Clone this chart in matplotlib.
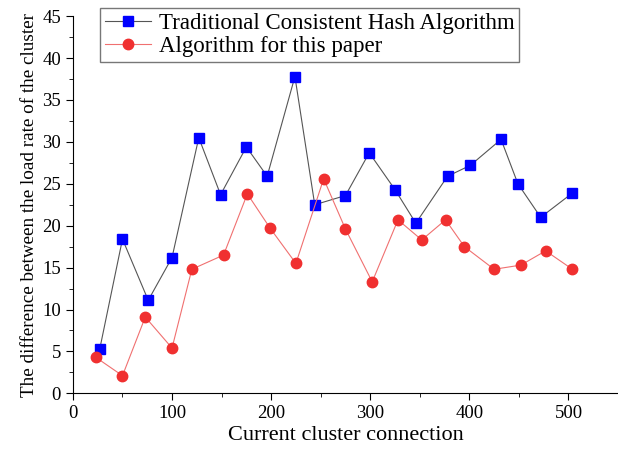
import matplotlib.pyplot as plt

plt.rcParams['font.family'] = ['Liberation Serif', 'DejaVu Serif']

# Traditional consistent hash algorithm
x_trad = [27, 50, 76, 100, 127, 149, 175, 196, 224, 244, 275, 299, 325, 346, 378, 401, 432, 449, 472, 504]
y_trad = [5.25, 18.4, 11.1, 16.2, 30.5, 23.7, 29.4, 25.9, 37.8, 22.5, 23.6, 28.7, 24.3, 20.3, 25.9, 27.2, 30.3, 25.0, 21.0, 23.9]

# Algorithm for this paper
x_new = [23, 50, 73, 100, 120, 152, 176, 199, 225, 253, 275, 302, 328, 352, 376, 395, 425, 452, 477, 504]
y_new = [4.3, 2.1, 9.1, 5.4, 14.8, 16.5, 23.8, 19.7, 15.5, 25.6, 19.6, 13.3, 20.7, 18.3, 20.7, 17.5, 14.8, 15.3, 17.0, 14.8]

fig = plt.figure(figsize=(6.18, 4.5), dpi=100)
ax = fig.add_axes([0.118, 0.126, 0.882, 0.838])

ax.plot(x_trad, y_trad, color='#555555', linewidth=0.8, marker='s', markersize=7,
        markerfacecolor='#0000ff', markeredgecolor='#0000ff', label='Traditional Consistent Hash Algorithm')
ax.plot(x_new, y_new, color='#f07070', linewidth=0.8, marker='o', markersize=7.5,
        markerfacecolor='#f03030', markeredgecolor='#f03030', label='Algorithm for this paper')

ax.set_xlim(0, 545)
ax.set_ylim(0, 45)
ax.set_xticks([0, 100, 200, 300, 400, 500])
ax.set_xticks([50, 150, 250, 350, 450, 550], minor=True)
ax.set_yticks(range(0, 46, 5))
ax.set_yticks([2.5 + 5 * i for i in range(9)], minor=True)
ax.tick_params(axis='both', which='major', direction='out', length=5, labelsize=13.5)
ax.tick_params(axis='both', which='minor', direction='out', length=3)

ax.spines['top'].set_visible(False)
ax.spines['right'].set_visible(False)

ax.set_xlabel('Current cluster connection', fontsize=16, labelpad=3)
ax.set_ylabel('The difference between the load rate of the cluster', fontsize=13.8, labelpad=3)

leg = ax.legend(loc='upper left', bbox_to_anchor=(0.05, 1.022), fontsize=16.5, frameon=True,
                fancybox=False, edgecolor='#555555', borderpad=0.2, labelspacing=0.12,
                handlelength=2.0, handletextpad=0.35, borderaxespad=0)
leg.get_frame().set_linewidth(1.0)

fig.savefig('out.png', dpi=100)
